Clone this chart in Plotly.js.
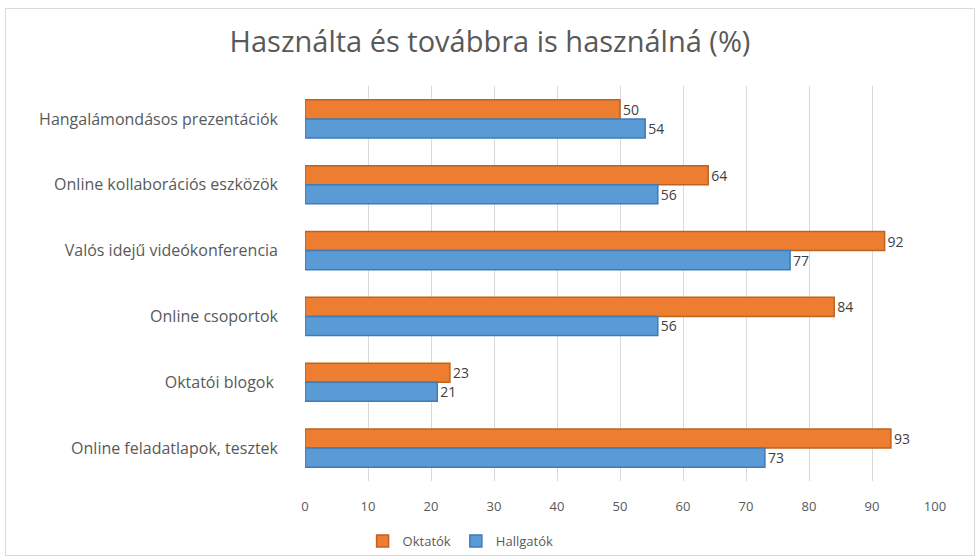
<!DOCTYPE html>
<html>
<head>
<meta charset="utf-8">
<script src="https://cdn.plot.ly/plotly-3.0.1.min.js"></script>
<style>
  html, body { margin: 0; padding: 0; background: #ffffff; }
  #wrap { position: relative; width: 980px; height: 559px; }
  #chart { position: absolute; left: 0; top: 0; width: 980px; height: 559px; }
  #frame { position: absolute; left: 5px; top: 8px; width: 968px; height: 546px;
           border: 1px solid #d9d9d9; pointer-events: none; }
</style>
</head>
<body>
<div id="wrap"><div id="chart"></div><div id="frame"></div></div>
<script>
const categories = [
  "Hangalámondásos prezentációk",
  "Online kollaborációs eszközök",
  "Valós idejű videókonferencia",
  "Online csoportok",
  "Oktatói blogok ",
  "Online feladatlapok, tesztek"
];
const oktatok = [50, 64, 92, 84, 23, 93];
const hallgatok = [54, 56, 77, 56, 21, 73];
const xTicks = [0, 10, 20, 30, 40, 50, 60, 70, 80, 90, 100];

const font = "'Open Sans', 'Liberation Sans', sans-serif";

const traces = [
  {
    type: "bar", orientation: "h", name: "Oktatók",
    y: categories, x: oktatok,
    marker: { color: "#ED7D31", line: { color: "#C0631F", width: 1.5 } },
    text: oktatok.map(String), textposition: "outside", cliponaxis: false,
    textfont: { family: font, size: 14, color: "#404040" }
  },
  {
    type: "bar", orientation: "h", name: "Hallgatók",
    y: categories, x: hallgatok,
    marker: { color: "#5B9BD5", line: { color: "#3F7CB5", width: 1.5 } },
    text: hallgatok.map(String), textposition: "outside", cliponaxis: false,
    textfont: { family: font, size: 14, color: "#404040" }
  }
];

const layout = {
  width: 980, height: 559,
  paper_bgcolor: "#ffffff", plot_bgcolor: "#ffffff",
  margin: { l: 305, r: 45, t: 86, b: 78 },
  title: {
    text: "Használta és továbbra is használná (%)",
    font: { family: font, size: 29, color: "#595959" },
    x: 0.5, xanchor: "center", xref: "container",
    y: 0.925, yanchor: "middle", yref: "container"
  },
  barmode: "group", bargap: 0.42, bargroupgap: 0,
  xaxis: {
    range: [0, 100], tickvals: xTicks, ticktext: xTicks.map(String),
    showgrid: true, gridcolor: "#d9d9d9", gridwidth: 1,
    zeroline: false, showline: false, ticks: "",
    ticklabelstandoff: 16,
    tickfont: { family: font, size: 13, color: "#595959" }
  },
  yaxis: {
    autorange: "reversed", type: "category",
    showgrid: false, zeroline: false, showline: false, ticks: "",
    ticklabelstandoff: 26,
    tickfont: { family: font, size: 16, color: "#595959" }
  },
  showlegend: true,
  legend: {
    orientation: "h", xref: "container", yref: "container",
    x: 0.47, xanchor: "center", y: 0.032, yanchor: "middle",
    font: { family: font, size: 13, color: "#595959" },
    traceorder: "normal", itemwidth: 30
  }
};

Plotly.newPlot("chart", traces, layout, { displayModeBar: false, staticPlot: true });
</script>
</body>
</html>
